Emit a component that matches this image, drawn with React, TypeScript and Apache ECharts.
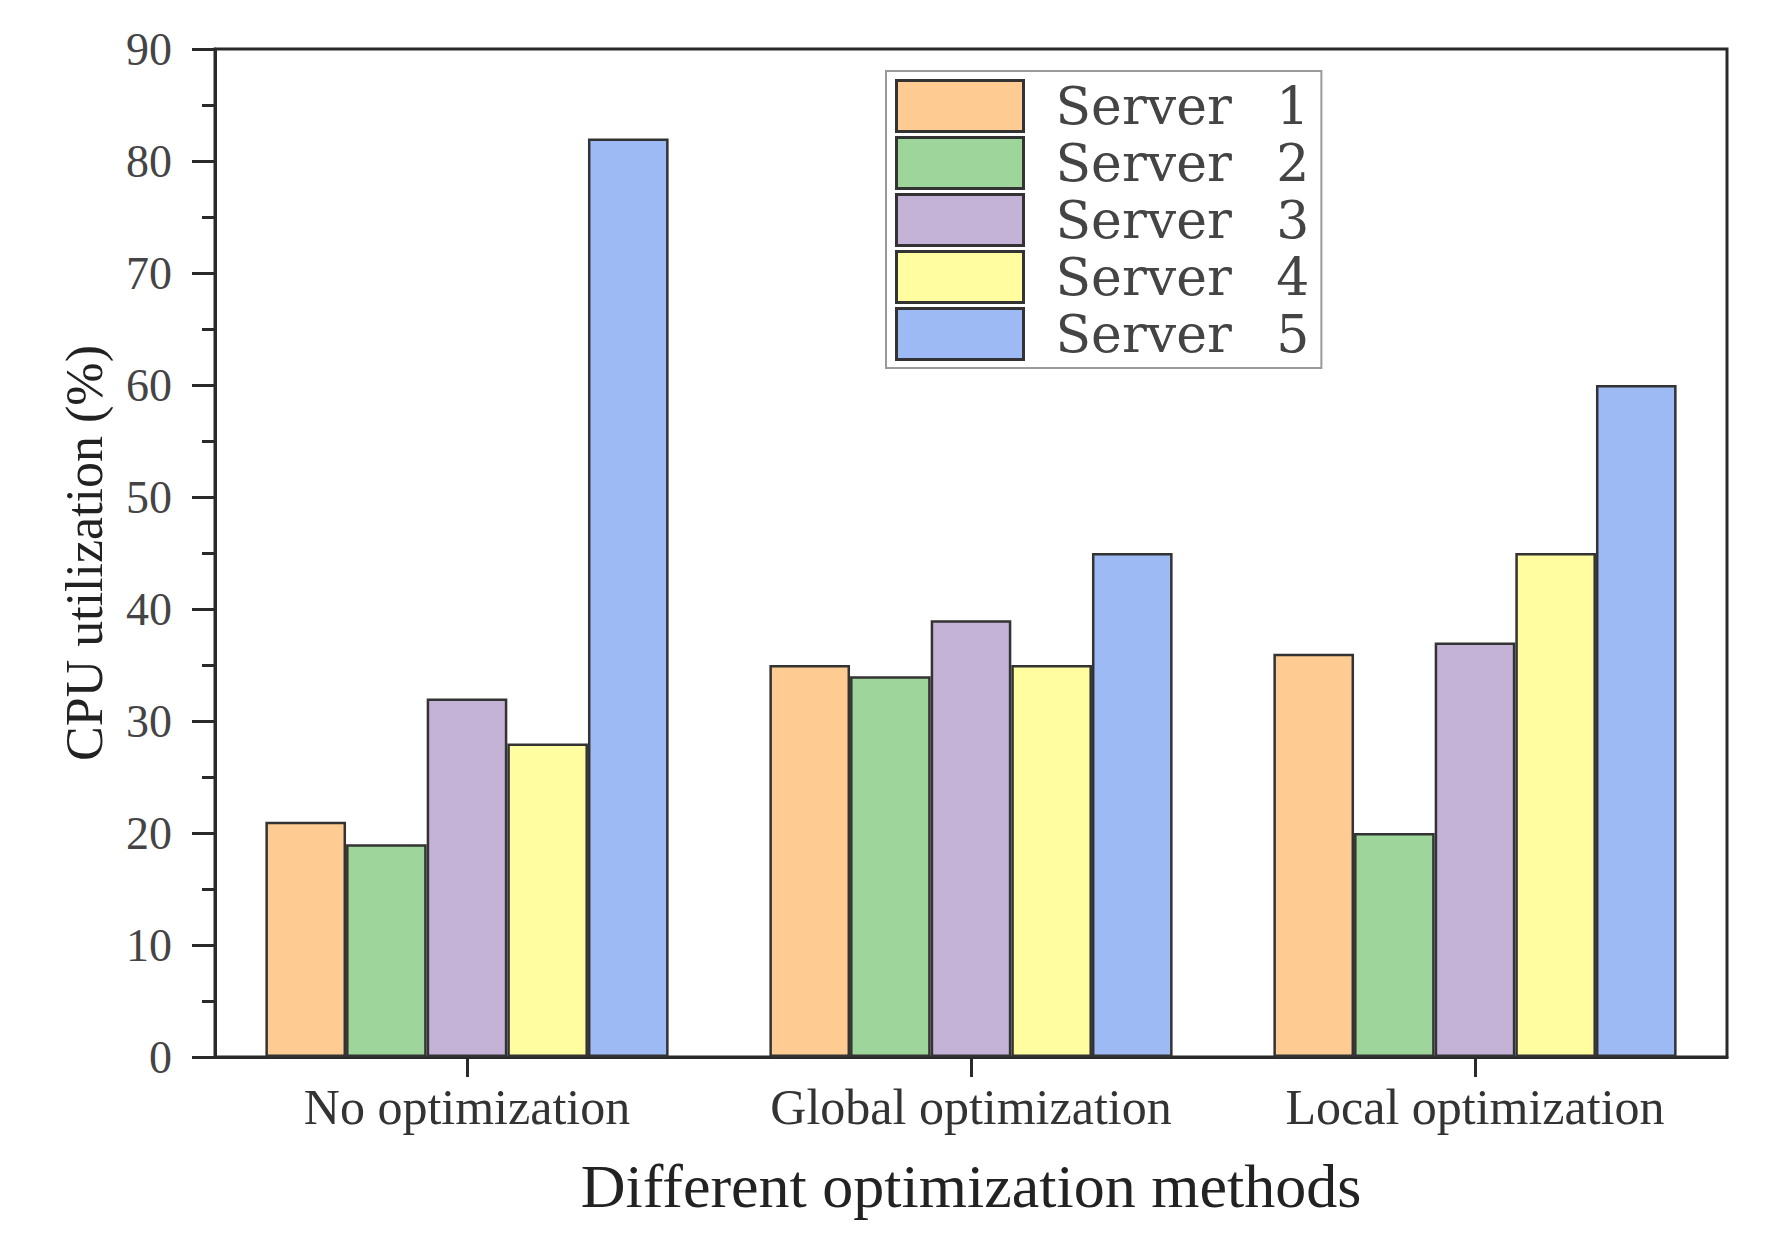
import React, { useEffect, useRef } from "react";
import * as echarts from "echarts";

const categories = ["No optimization", "Global optimization", "Local optimization"];
const seriesNames = ["Server 1", "Server 2", "Server 3", "Server 4", "Server 5"];
const server1 = [21, 35, 36];
const server2 = [19, 34, 20];
const server3 = [32, 39, 37];
const server4 = [28, 35, 45];
const server5 = [82, 45, 60];
const colors = ["#FECC92", "#9DD59B", "#C4B3D6", "#FFFD9F", "#9DBAF4"];

export default function App() {
  const ref = useRef<HTMLDivElement>(null);
  useEffect(() => {
    if (!ref.current) return;
    const chart = echarts.init(ref.current, undefined, { renderer: "svg" });
    const values = [server1, server2, server3, server4, server5];
    chart.setOption({
      animation: false,
      backgroundColor: "#ffffff",
      grid: {
        left: 215,
        right: 43,
        top: 49,
        bottom: 182,
        show: true,
        borderColor: "#2a2a2a",
        borderWidth: 3,
        backgroundColor: "transparent",
      },
      legend: {
        orient: "vertical",
        left: 886,
        top: 71,
        padding: [8, 12, 7, 9],
        itemWidth: 127,
        itemHeight: 51,
        itemGap: 3,
        icon: "rect",
        borderColor: "#9a9a9a",
        borderWidth: 2,
        data: seriesNames,
        itemStyle: { borderColor: "#333", borderWidth: 3 },
        formatter: (name: string) => {
          const idx = name.lastIndexOf(" ");
          return `{a|${name.slice(0, idx)}} {b|${name.slice(idx + 1)}}`;
        },
        textStyle: {
          fontFamily: "DejaVu Serif",
          fontSize: 52,
          color: "#444",
          lineHeight: 51,
          padding: [0, 0, 0, 27],
          rich: {
            a: { fontFamily: "DejaVu Serif", fontSize: 52, color: "#444", lineHeight: 51 },
            b: { fontFamily: "DejaVu Serif", fontSize: 52, color: "#444", lineHeight: 51, padding: [0, 0, 0, 28] },
          },
        },
      },
      xAxis: {
        type: "category",
        data: categories,
        axisLine: { lineStyle: { color: "#2a2a2a", width: 3 } },
        axisTick: { show: true, alignWithLabel: true, length: 20, inside: false, lineStyle: { color: "#2a2a2a", width: 3 } },
        axisLabel: {
          interval: 0,
          hideOverlap: false,
          fontFamily: "Liberation Serif",
          fontSize: 50,
          color: "#333",
          margin: 25,
        },
        name: "Different optimization methods",
        nameLocation: "middle",
        nameGap: 98,
        nameTextStyle: { fontFamily: "Liberation Serif", fontSize: 62, color: "#222" },
      },
      yAxis: {
        type: "value",
        min: 0,
        max: 90,
        interval: 10,
        splitLine: { show: false },
        axisLine: { show: true, lineStyle: { color: "#2a2a2a", width: 3 } },
        axisTick: { show: true, length: 23, lineStyle: { color: "#2a2a2a", width: 3 } },
        minorTick: { show: true, splitNumber: 2, length: 13, lineStyle: { color: "#2a2a2a", width: 3 } },
        axisLabel: {
          fontFamily: "Liberation Serif",
          fontSize: 46,
          color: "#444",
          margin: 43,
        },
        name: "CPU utilization (%)",
        nameLocation: "middle",
        nameGap: 105,
        nameRotate: 90,
        nameTextStyle: { fontFamily: "Liberation Serif", fontSize: 52, color: "#222" },
      },
      series: seriesNames.map((n, i) => ({
        name: n,
        type: "bar",
        data: values[i],
        barGap: "0%",
        barCategoryGap: "20%",
        itemStyle: { color: colors[i], borderColor: "#333", borderWidth: 2.5 },
      })),
    });
    return () => chart.dispose();
  }, []);
  return (
    <div
      ref={ref}
      style={{ position: "fixed", left: 0, top: 0, width: 1770, height: 1239, background: "#fff" }}
    />
  );
}
